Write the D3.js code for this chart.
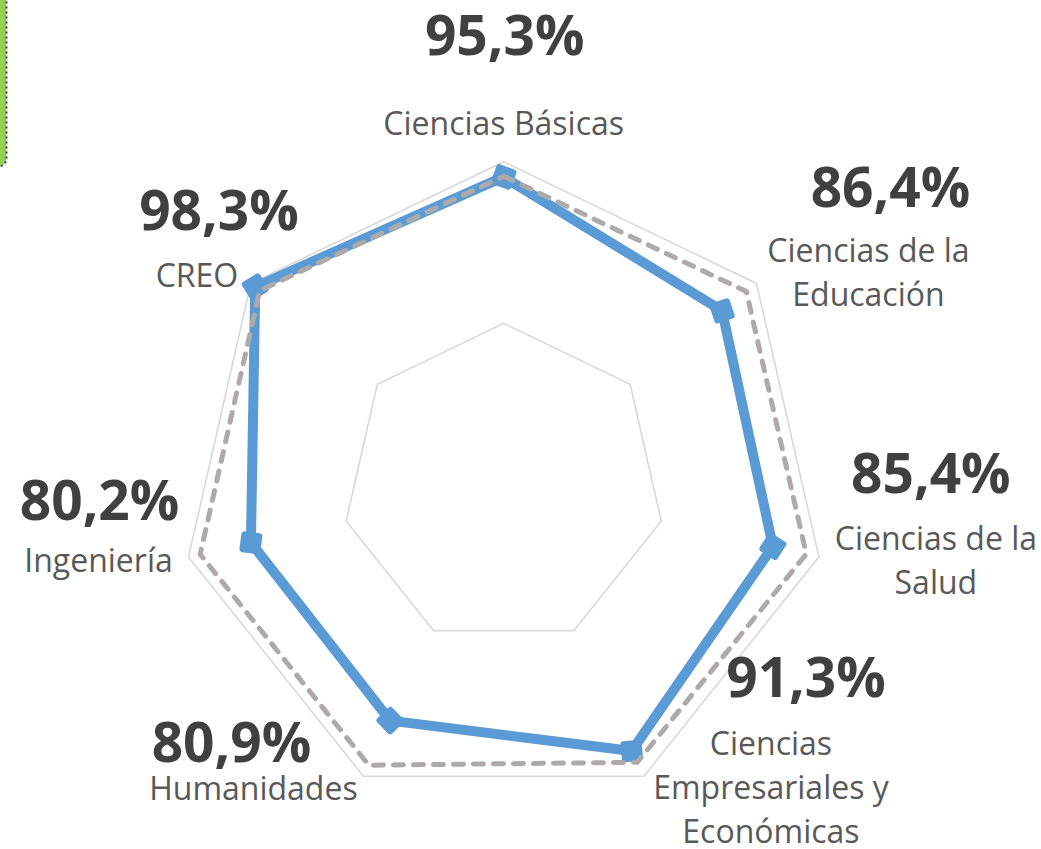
<html>
<script src="https://d3js.org/d3.v7.min.js"></script>
<body style="margin:0;background:#fff">
</body>
</html>

<script type="text/javascript">

// data
var categories = ["Ciencias Básicas", "Ciencias de la Educación", "Ciencias de la Salud",
  "Ciencias Empresariales y Económicas", "Humanidades", "Ingeniería", "CREO"];
var results = [0.953, 0.864, 0.854, 0.913, 0.809, 0.802, 0.983];
var target = [0.955, 0.96, 0.96, 0.952, 0.962, 0.963, 0.965];
var pctLabels = ["95,3%", "86,4%", "85,4%", "91,3%", "80,9%", "80,2%", "98,3%"];
var catLines = [["Ciencias Básicas"], ["Ciencias de la", "Educación"], ["Ciencias de la", "Salud"],
  ["Ciencias", "Empresariales y", "Económicas"], ["Humanidades"], ["Ingeniería"], ["CREO"]];
var gridTicks = [0.5, 1];

// layout: label nudges relative to the outer ring vertex
var catOffset = [[0, -27], [112, -21], [117, -7], [127, -21], [-110, 24], [-90, 15], [-54, 4]];
var pctOffset = [[1, -107], [134, -76], [112, -64], [162, -79], [-132, -14], [-89, -37], [-32, -53]];

var W = 1041, H = 849, cx = 503.7, cy = 485, R = 323.3;

var svg = d3.select("body").append("svg")
  .attr("width", W).attr("height", H)
  .style("font-family", "'Open Sans', sans-serif");

// clipped green box at top-left
svg.append("rect")
  .attr("x", -100).attr("y", -20)
  .attr("width", 106.5).attr("height", 187)
  .attr("rx", 9)
  .style("fill", "#92D050")
  .style("stroke", "#3C3C8C").style("stroke-width", 2)
  .style("stroke-dasharray", "2,3");

var r = d3.scaleLinear().domain([0, 1]).range([0, R]);
var angle = d3.scaleLinear().domain([0, categories.length]).range([0, 2 * Math.PI]);

var g = svg.append("g").attr("transform", "translate(" + cx + "," + cy + ")");

function pt(i, v) {
  var a = angle(i);
  return [r(v) * Math.sin(a), -r(v) * Math.cos(a)];
}

// grid rings
var ring = d3.lineRadial()
  .angle(function(d, i) { return angle(i); })
  .curve(d3.curveLinearClosed);

g.selectAll(".grid").data(gridTicks).enter().append("path")
  .attr("class", "grid")
  .attr("d", function(t) { return ring.radius(r(t))(categories); })
  .style("fill", "none").style("stroke", "#D9D9D9").style("stroke-width", 1.6);

var line = d3.lineRadial()
  .angle(function(d, i) { return angle(i); })
  .radius(function(d) { return r(d); })
  .curve(d3.curveLinearClosed);

// results series
g.append("path").datum(results)
  .attr("d", line)
  .style("fill", "none").style("stroke", "#5B9BD5").style("stroke-width", 10)
  .style("stroke-linejoin", "round");

g.selectAll(".mk").data(results).enter().append("path")
  .attr("class", "mk")
  .attr("d", d3.symbol().type(d3.symbolSquare).size(230))
  .attr("transform", function(d, i) {
    var p = pt(i, d);
    return "translate(" + p[0] + "," + p[1] + ") rotate(" + (angle(i) * 180 / Math.PI + 20) + ")";
  })
  .style("fill", "#5B9BD5").style("stroke", "#5B9BD5").style("stroke-width", 6)
  .style("stroke-linejoin", "round");

// target series
g.append("path").datum(target)
  .attr("d", line)
  .style("fill", "none").style("stroke", "#AEAAAA").style("stroke-width", 5)
  .style("stroke-dasharray", "10,10").style("stroke-linecap", "round")
  .style("stroke-linejoin", "round");

// category and value labels
categories.forEach(function(c, i) {
  var p = pt(i, 1);
  var t = g.append("text")
    .attr("x", p[0] + catOffset[i][0]).attr("y", p[1] + catOffset[i][1])
    .attr("text-anchor", "middle")
    .style("font-size", "32px").style("fill", "#595959");
  catLines[i].forEach(function(l, k) {
    t.append("tspan").attr("x", p[0] + catOffset[i][0]).attr("dy", k == 0 ? 0 : 44).text(l);
  });
  g.append("text")
    .attr("x", p[0] + pctOffset[i][0]).attr("y", p[1] + pctOffset[i][1])
    .attr("text-anchor", "middle")
    .style("font-size", "55px").style("font-weight", "bold").style("fill", "#404040")
    .text(pctLabels[i]);
});
</script>
